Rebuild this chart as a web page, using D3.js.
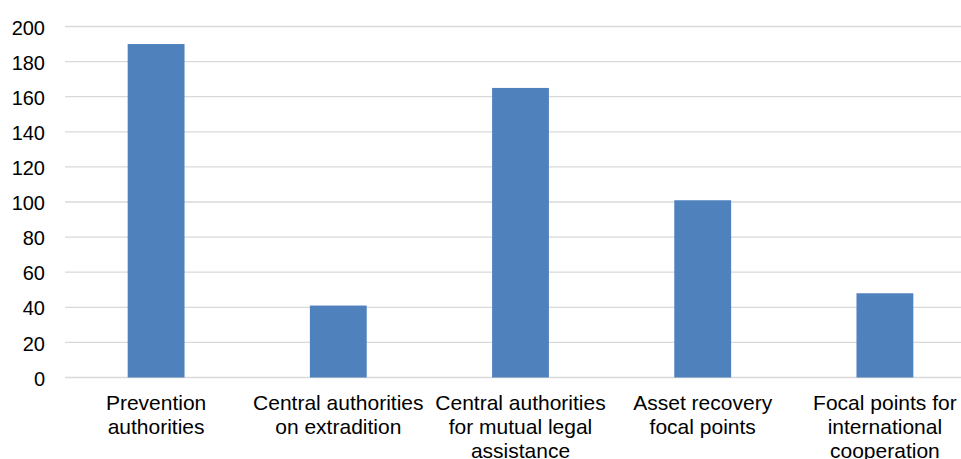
<!DOCTYPE html>
<html>
<head>
<meta charset="utf-8">
<script src="https://cdn.jsdelivr.net/npm/d3@7"></script>
<style>
  html, body { margin: 0; padding: 0; background: #ffffff; }
  svg { display: block; }
  text { font-family: "Liberation Sans", Arial, sans-serif; fill: #000; }
</style>
</head>
<body>
<svg id="chart" width="961" height="459"></svg>
<script>
// Categories (each label split into its display lines) and their counts
const categories = [
  "Prevention authorities",
  "Central authorities on extradition",
  "Central authorities for mutual legal assistance",
  "Asset recovery focal points",
  "Focal points for international cooperation"
];
const categoryLines = [
  ["Prevention", "authorities"],
  ["Central authorities", "on extradition"],
  ["Central authorities", "for mutual legal", "assistance"],
  ["Asset recovery", "focal points"],
  ["Focal points for", "international", "cooperation"]
];
const counts = [190, 41, 165, 101, 48];
const yTicks = [0, 20, 40, 60, 80, 100, 120, 140, 160, 180, 200];

const svg = d3.select("#chart");
const plotLeft = 65, plotRight = 976, plotTop = 26.5, plotBottom = 377.5;

const x = d3.scaleBand().domain(categories).range([plotLeft, plotRight]).padding(0);
const y = d3.scaleLinear().domain([0, 200]).range([plotBottom, plotTop]);
const barW = x.bandwidth() * 0.312;

// Horizontal gridlines
svg.append("g")
  .selectAll("line")
  .data(yTicks)
  .join("line")
  .attr("x1", plotLeft).attr("x2", plotRight)
  .attr("y1", d => y(d)).attr("y2", d => y(d))
  .attr("stroke", "#d9d9d9")
  .attr("stroke-width", 1.3);

// Value axis labels
const yAxis = svg.append("g")
  .attr("transform", `translate(${plotLeft},0)`)
  .call(d3.axisLeft(y).tickValues(yTicks).tickSize(0).tickPadding(20));
yAxis.select(".domain").remove();
yAxis.selectAll("text")
  .style("font-family", '"Liberation Sans", Arial, sans-serif')
  .style("font-size", "20px")
  .attr("fill", "#000")
  .attr("dy", "0.38em");

// Bars
svg.append("g")
  .selectAll("rect")
  .data(categories)
  .join("rect")
  .attr("x", d => x(d) + x.bandwidth() / 2 - barW / 2)
  .attr("width", barW)
  .attr("y", (d, i) => y(counts[i]))
  .attr("height", (d, i) => y(0) - y(counts[i]))
  .attr("fill", "#4f81bd");

// Category labels
const labels = svg.append("g")
  .selectAll("text")
  .data(categories)
  .join("text")
  .attr("text-anchor", "middle")
  .attr("font-size", "21px")
  .attr("x", d => x(d) + x.bandwidth() / 2)
  .attr("y", 410);
labels.each(function(d, i) {
  d3.select(this).selectAll("tspan")
    .data(categoryLines[i])
    .join("tspan")
    .attr("x", x(d) + x.bandwidth() / 2)
    .attr("dy", (t, j) => j === 0 ? 0 : 24)
    .text(t => t);
});
</script>
</body>
</html>
